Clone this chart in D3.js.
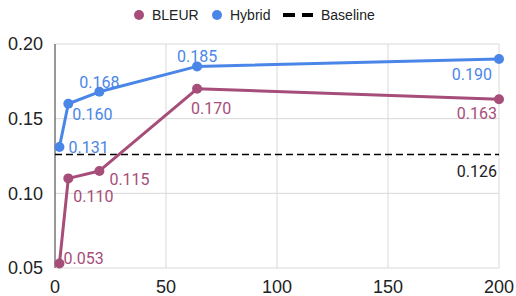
<!DOCTYPE html>
<html lang="en">
<head>
  <meta charset="utf-8">
  <script src="https://d3js.org/d3.v7.min.js"></script>
  <style>
    body { margin: 0; background: #fff; }
    svg { display: block; }
  </style>
</head>
<body>
  <svg width="516" height="296"></svg>

  <script>
    // data
    const steps = [2, 6, 20, 64, 200];
    const bleurValues = [0.053, 0.110, 0.115, 0.170, 0.163];
    const hybridValues = [0.131, 0.160, 0.168, 0.185, 0.190];
    const baselineValue = 0.126;
    const xTicks = [0, 50, 100, 150, 200];
    const yTicks = [0.05, 0.10, 0.15, 0.20];
    const seriesNames = ["BLEUR", "Hybrid", "Baseline"];

    const colors = { BLEUR: "#a64d79", Hybrid: "#4a86e8", Baseline: "#000" };

    // label placement per point: [anchor, dx, dy]
    const labelPlacement = {
      BLEUR: [["start", 4, -5], ["start", 5, 18], ["start", 10, 8], ["middle", 14, 20], ["end", -2, 14]],
      Hybrid: [["start", 9, 0], ["start", 4, 11], ["middle", 0, -9], ["middle", 0, -10], ["end", -7, 15]]
    };

    const svg = d3.select("svg");
    const x = d3.scaleLinear().domain([0, 200]).range([55, 499]);
    const y = d3.scaleLinear().domain([0.05, 0.20]).range([268, 44]);

    // grid
    const grid = svg.append("g");
    grid.selectAll("line.h").data(yTicks).enter().append("line")
      .attr("x1", x(0)).attr("x2", x(200))
      .attr("y1", d => y(d)).attr("y2", d => y(d))
      .attr("stroke", "#d9d9d9").attr("stroke-width", 1);
    grid.selectAll("line.v").data(xTicks.slice(1)).enter().append("line")
      .attr("y1", y(0.20)).attr("y2", y(0.05))
      .attr("x1", d => x(d)).attr("x2", d => x(d))
      .attr("stroke", "#d9d9d9").attr("stroke-width", 1);
    grid.append("line")
      .attr("x1", x(0)).attr("x2", x(0))
      .attr("y1", y(0.20)).attr("y2", y(0.05))
      .attr("stroke", "#333").attr("stroke-width", 1);

    // axis labels
    svg.append("g").selectAll("text").data(yTicks).enter().append("text")
      .attr("x", 43).attr("y", d => y(d))
      .attr("dy", "0.35em")
      .attr("text-anchor", "end")
      .style("font", "18px 'Liberation Sans', Arial, sans-serif")
      .attr("fill", "#222")
      .text(d => d3.format(".2f")(d));

    svg.append("g").selectAll("text").data(xTicks).enter().append("text")
      .attr("x", d => x(d)).attr("y", 287)
      .attr("dy", "0.35em")
      .attr("text-anchor", "middle")
      .style("font", "18px 'Liberation Sans', Arial, sans-serif")
      .attr("fill", "#222")
      .text(d => d);

    // baseline
    svg.append("line")
      .attr("x1", x(0)).attr("x2", x(200))
      .attr("y1", y(baselineValue)).attr("y2", y(baselineValue))
      .attr("stroke", colors.Baseline).attr("stroke-width", 1.6)
      .attr("stroke-dasharray", "7,4");
    svg.append("text")
      .attr("x", x(200) - 2).attr("y", y(baselineValue) + 17)
      .attr("dy", "0.35em").attr("text-anchor", "end")
      .style("font", "16px Roboto, sans-serif")
      .attr("fill", "#222")
      .text(d3.format(".3f")(baselineValue));

    const line = d3.line().x(d => x(d[0])).y(d => y(d[1]));

    function drawSeries(name, values) {
      const pts = steps.map((s, i) => [s, values[i]]);
      const g = svg.append("g");
      g.append("path").datum(pts)
        .attr("d", line)
        .attr("fill", "none")
        .attr("stroke", colors[name])
        .attr("stroke-width", 3)
        .attr("stroke-linejoin", "round");
      g.selectAll("circle").data(pts).enter().append("circle")
        .attr("cx", d => x(d[0])).attr("cy", d => y(d[1]))
        .attr("r", 5)
        .attr("fill", colors[name]);
      g.selectAll("text").data(pts).enter().append("text")
        .attr("x", (d, i) => x(d[0]) + labelPlacement[name][i][1])
        .attr("y", (d, i) => y(d[1]) + labelPlacement[name][i][2])
        .attr("dy", "0.35em")
        .attr("text-anchor", (d, i) => labelPlacement[name][i][0])
        .style("font", "16px Roboto, sans-serif")
        .attr("fill", colors[name])
        .text(d => d3.format(".3f")(d[1]));
    }

    drawSeries("Hybrid", hybridValues);
    drawSeries("BLEUR", bleurValues);

    // legend
    const legend = svg.append("g").style("font", "14px 'Liberation Sans', Arial, sans-serif");
    const legendX = { BLEUR: 139, Hybrid: 217, Baseline: 283 };
    seriesNames.forEach(name => {
      const lx = legendX[name];
      if (name === "Baseline") {
        legend.append("line")
          .attr("x1", lx).attr("x2", lx + 30)
          .attr("y1", 15).attr("y2", 15)
          .attr("stroke", "#000").attr("stroke-width", 4)
          .attr("stroke-dasharray", "12,7");
        legend.append("text").attr("x", lx + 38).attr("y", 15).attr("dy", "0.35em")
          .attr("fill", "#222").text(name);
      } else {
        legend.append("circle").attr("cx", lx).attr("cy", 15).attr("r", 5)
          .attr("fill", colors[name]);
        legend.append("text").attr("x", lx + 13).attr("y", 15).attr("dy", "0.35em")
          .attr("fill", "#222").text(name);
      }
    });
  </script>
</body>
</html>
